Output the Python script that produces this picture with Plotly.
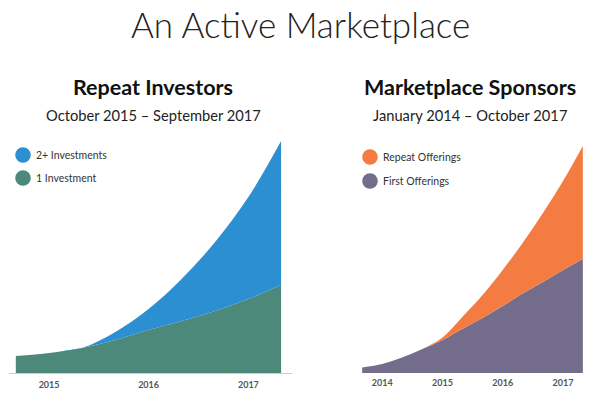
import plotly.graph_objects as go

# Page body has an 8px margin; the figure is sized/positioned to compensate.
OFF = 8
W, H = 600 - OFF, 393 - OFF

# ---- Data (arbitrary units) ----
inv_dates = ["2014-09-01", "2015-01-01", "2015-05-01", "2015-09-01", "2016-01-01",
             "2016-05-01", "2016-09-01", "2017-01-01", "2017-05-01"]
inv_one = [17, 20, 25, 33, 43, 52, 62, 74, 88]          # 1 Investment
inv_repeat = [0, 0, 0, 8, 21, 42, 69, 102, 144]         # 2+ Investments (stacked on top)

sp_dates = ["2013-09-01", "2014-01-01", "2014-05-01", "2014-09-01", "2015-01-01",
            "2015-05-01", "2015-09-01", "2016-01-01", "2016-05-01", "2016-09-01",
            "2017-01-01", "2017-05-01"]
sp_first = [5.5, 9, 15.5, 24, 33, 44, 55, 67, 79.5, 91, 103, 114]   # First Offerings
sp_repeat = [0, 0, 0, 0, 2.5, 12, 23, 36, 50.5, 69, 89, 113]       # Repeat Offerings (stacked)

inv_ticks = ["2015-01-01", "2016-01-01", "2017-01-01"]
inv_ticktext = ["2015", "2016", "2017"]
sp_ticks = ["2014-01-01", "2015-01-01", "2016-01-01", "2017-01-01"]
sp_ticktext = ["2014", "2015", "2016", "2017"]

BLUE = "#2b8fd1"
GREEN = "#4c897a"
ORANGE = "#f47c42"
PURPLE = "#736d8b"
FONT = "Lato"


def px(x):
    return (x - OFF) / W


def py(y):
    return 1 - (y - OFF) / H


fig = go.Figure()

fig.add_trace(go.Scatter(x=inv_dates, y=inv_one, stackgroup="a", mode="none",
                         fillcolor=GREEN, line=dict(shape="spline", width=0),
                         name="1 Investment", xaxis="x", yaxis="y"))
fig.add_trace(go.Scatter(x=inv_dates, y=inv_repeat, stackgroup="a", mode="none",
                         fillcolor=BLUE, line=dict(shape="spline", width=0),
                         name="2+ Investments", xaxis="x", yaxis="y"))
fig.add_trace(go.Scatter(x=sp_dates, y=sp_first, stackgroup="b", mode="none",
                         fillcolor=PURPLE, line=dict(shape="spline", width=0),
                         name="First Offerings", xaxis="x2", yaxis="y2"))
fig.add_trace(go.Scatter(x=sp_dates, y=sp_repeat, stackgroup="b", mode="none",
                         fillcolor=ORANGE, line=dict(shape="spline", width=0),
                         name="Repeat Offerings", xaxis="x2", yaxis="y2"))

ydom = [py(373), py(130)]
tickfont = dict(family=FONT, size=9, color="#555555", weight=700)

fig.update_layout(
    width=W, height=H,
    margin=dict(l=0, r=0, t=0, b=0),
    paper_bgcolor="white", plot_bgcolor="white",
    showlegend=False,
    xaxis=dict(domain=[px(9), px(292)], range=["2014-08-07", "2017-06-10"],
               tickvals=inv_ticks, ticktext=inv_ticktext, tickfont=tickfont,
               showgrid=False, zeroline=False, showline=True, linecolor="#cccccc",
               linewidth=1, ticks="", ticklabelstandoff=3),
    yaxis=dict(domain=ydom, range=[0, 243], visible=False, anchor="x"),
    xaxis2=dict(domain=[px(361), px(584)], range=["2013-08-25", "2017-05-08"],
                tickvals=sp_ticks, ticktext=sp_ticktext, tickfont=tickfont,
                showgrid=False, zeroline=False, showline=False, ticks="",
                anchor="y2", ticklabelstandoff=3),
    yaxis2=dict(domain=ydom, range=[0, 243], visible=False, anchor="x2"),
)

ann = []
ann.append(dict(text="An Active Marketplace", x=px(300), y=py(24), xref="paper", yref="paper",
                showarrow=False, font=dict(family=FONT, size=35, color="#222222", weight=300),
                xanchor="center", yanchor="middle"))
ann.append(dict(text="Repeat Investors", x=px(153), y=py(87), xref="paper", yref="paper",
                showarrow=False, font=dict(family=FONT, size=21.5, color="#111111", weight=700),
                xanchor="center", yanchor="middle"))
ann.append(dict(text="Marketplace Sponsors", x=px(470), y=py(87), xref="paper", yref="paper",
                showarrow=False, font=dict(family=FONT, size=21.5, color="#111111", weight=700),
                xanchor="center", yanchor="middle"))
ann.append(dict(text="October 2015 – September 2017", x=px(153), y=py(115), xref="paper",
                yref="paper", showarrow=False,
                font=dict(family=FONT, size=14.7, color="#222222"),
                xanchor="center", yanchor="middle"))
ann.append(dict(text="January 2014 – October 2017", x=px(470), y=py(115), xref="paper",
                yref="paper", showarrow=False,
                font=dict(family=FONT, size=14.7, color="#222222"),
                xanchor="center", yanchor="middle"))

legend_items = [
    ("2+ Investments", BLUE, 23, 155),
    ("1 Investment", GREEN, 23, 178),
    ("Repeat Offerings", ORANGE, 370, 157),
    ("First Offerings", PURPLE, 370, 181),
]
shapes = []
r = 7.8
for label, col, cx, cy in legend_items:
    shapes.append(dict(type="circle", xref="paper", yref="paper",
                       x0=px(cx - r), x1=px(cx + r), y0=py(cy + r), y1=py(cy - r),
                       fillcolor=col, line=dict(width=0)))
    ann.append(dict(text=label, x=px(cx + 11), y=py(cy), xref="paper", yref="paper",
                    showarrow=False, font=dict(family=FONT, size=10.5, color="#333333"),
                    xanchor="left", yanchor="middle"))

fig.update_layout(annotations=ann, shapes=shapes)

fig.write_html("out.html")
